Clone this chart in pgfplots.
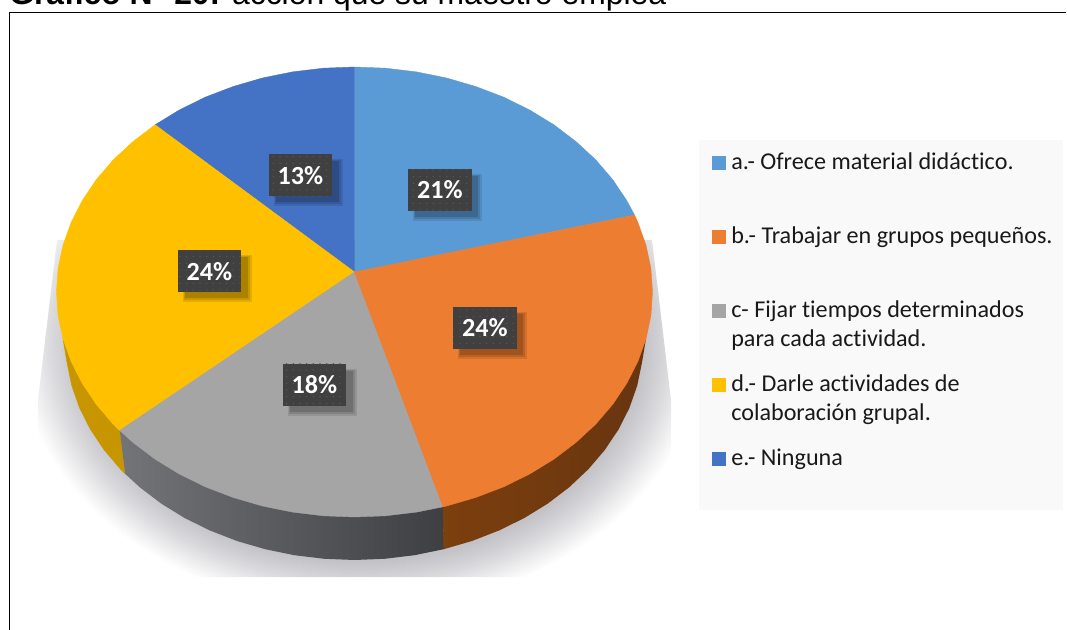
\documentclass[border=0pt]{standalone}
\usepackage{fontspec}
\setmainfont[Ligatures=NoCommon]{Carlito}
\newfontfamily\arialf{Liberation Sans}
\usepackage{pgfplots}
\pgfplotsset{compat=1.18}
\usetikzlibrary{patterns.meta}
\definecolor{cA}{HTML}{5B9BD5}
\definecolor{cB}{HTML}{ED7D31}
\definecolor{cC}{HTML}{A5A5A5}
\definecolor{cD}{HTML}{FFC000}
\definecolor{cE}{HTML}{4472C4}
\definecolor{sideD}{HTML}{C69500}
\definecolor{sideCl}{HTML}{737478}
\definecolor{sideCm}{HTML}{505050}
\definecolor{sideCr}{HTML}{3E3F42}
\definecolor{sideBl}{HTML}{7C3F0E}
\definecolor{sideBr}{HTML}{683510}
\definecolor{shadowc}{HTML}{C2C2C7}
\definecolor{lbg}{HTML}{F9F9F9}
\definecolor{boxc}{HTML}{404040}
\definecolor{boxd}{HTML}{5A5A5A}
\pgfdeclareradialshading{pieshadow}{\pgfpointorigin}{color(0bp)=(shadowc); color(20.5bp)=(shadowc); color(22.5bp)=(shadowc!60!white); color(25bp)=(white); color(50bp)=(white)}
\newcommand{\pct}[3]{%
  \fill[black,opacity=0.10] (axis cs:#1-27,#2-16) rectangle (axis cs:#1+42,#2+31);
  \fill[black,opacity=0.12] (axis cs:#1-26,#2-15) rectangle (axis cs:#1+40,#2+29);
  \fill[black,opacity=0.14] (axis cs:#1-25,#2-14) rectangle (axis cs:#1+38,#2+27);
  \node[minimum width=47.6pt,minimum height=31.5pt,inner sep=0pt,fill=boxc,
        postaction={pattern={Dots[distance=5pt,radius=0.55pt]},pattern color=boxd},
        text=white,font=\fontsize{19.6}{19.6}\selectfont\bfseries] at (axis cs:#1,#2) {#3};}
\newcommand{\ltext}[2]{\node[anchor=base west,inner sep=0pt,text=black!90,font=\fontsize{18.1}{18.1}\selectfont] at (axis cs:731,#1) {#2};}
\begin{document}
\begin{tikzpicture}
\clip (0,0) rectangle (800.25pt,472.5pt);
\useasboundingbox (0,0) rectangle (800.25pt,472.5pt);
\begin{axis}[at={(0,0)},anchor=south west,scale only axis,width=800.25pt,height=472.5pt,
  xmin=0,xmax=1067,ymin=0,ymax=630,y dir=reverse,hide axis,clip=false]
% frame
\addplot[draw=black,line width=1.1pt,no marks] coordinates {(9.5,640) (9.5,12.7) (1066,12.7)};
% legend background
\addplot[draw=none,fill=lbg] coordinates {(699,140) (1063,140) (1063,510) (699,510)} --cycle;
% shadow
\begin{scope}
\clip (axis cs:57,240) -- (axis cs:38,400) -- (axis cs:38,577) -- (axis cs:671,577) -- (axis cs:671,400) -- (axis cs:652,240) -- cycle;
\shade[shading=pieshadow] (axis cs:360,340) ellipse [x radius=258pt,y radius=202.5pt];
\end{scope}
% sides
\addplot[draw=sideD,line width=0.3pt,fill=sideD] coordinates {(63,338.8) (67.1,363) (71.8,385.7) (79.6,408) (90.5,429.5) (104.2,450) (120.7,469.3) (125.2,473.9) (119.7,430.5) (200,300)} --cycle;
\addplot[draw=none,shade,left color=sideCl,middle color=sideCm,right color=sideCr] coordinates {(119.7,430.5) (125.2,473.9) (139.7,487.2) (161.1,503.5) (184.6,518) (210,530.5) (237,541) (265.2,549.2) (294.4,555.2) (324.3,558.8) (354.5,560) (384.7,558.8) (414.6,555.2) (443.8,549.2) (443.1,506.8) (354.5,400)} --cycle;
\addplot[draw=none,shade,left color=sideBl,right color=sideBr] coordinates {(443.1,506.8) (443.8,549.2) (472,541) (499,530.5) (524.4,518) (547.9,503.5) (569.3,487.2) (588.3,469.3) (604.8,450) (618.5,429.5) (629.4,408) (637.2,385.7) (641.9,363) (646,338.8) (500,320)} --cycle;
% top faces: a 21
\addplot[draw=cA,line width=0.3pt,fill=cA] coordinates {(354.5,272) (354.5,67) (385.6,68.2) (416.5,71.9) (446.6,78) (475.7,86.5) (503.5,97.1) (529.7,110) (553.9,124.8) (575.9,141.5) (595.6,159.7) (612.6,179.5) (626.7,200.5) (634.5,215)} --cycle;
% e 13
\addplot[draw=cE,line width=0.3pt,fill=cE] coordinates {(354.5,272) (155.1,124.8) (179.3,110) (205.5,97.1) (233.3,86.5) (262.4,78) (292.5,71.9) (323.4,68.2) (354.5,67)} --cycle;
% d 24
\addplot[draw=cD,line width=0.3pt,fill=cD] coordinates {(354.5,272) (119.7,430.5) (113.4,424.3) (96.4,404.5) (82.3,383.5) (71.1,361.5) (63,338.8) (58.1,315.5) (56.5,292) (58.1,268.5) (63,245.2) (71.1,222.5) (82.3,200.5) (96.4,179.5) (113.4,159.7) (133.1,141.5) (155.1,124.8)} --cycle;
% c 18
\addplot[draw=cC,line width=0.3pt,fill=cC] coordinates {(354.5,272) (443.1,506.8) (416.5,512.1) (385.6,515.8) (354.5,517) (323.4,515.8) (292.5,512.1) (262.4,506) (233.3,497.5) (205.5,486.9) (179.3,474) (155.1,459.2) (133.1,442.5) (119.7,430.5)} --cycle;
% b 24
\addplot[draw=cB,line width=0.3pt,fill=cB] coordinates {(354.5,272) (634.5,215) (637.9,222.5) (646,245.2) (650.9,268.5) (652.5,292) (650.9,315.5) (646,338.8) (637.9,361.5) (626.7,383.5) (612.6,404.5) (595.6,424.3) (575.9,442.5) (553.9,459.2) (529.7,474) (503.5,486.9) (475.7,497.5) (446.6,506) (443.1,506.8)} --cycle;
% percentage labels
\pct{440}{190}{21\%}
\pct{485}{328}{24\%}
\pct{314.5}{385}{18\%}
\pct{209.5}{271.5}{24\%}
\pct{300.5}{175.5}{13\%}
% legend
\addplot[draw=none,fill=cA] coordinates {(712,156) (726,156) (726,170) (712,170)} --cycle;
\addplot[draw=none,fill=cB] coordinates {(712,230) (726,230) (726,244) (712,244)} --cycle;
\addplot[draw=none,fill=cC] coordinates {(712,304) (726,304) (726,318) (712,318)} --cycle;
\addplot[draw=none,fill=cD] coordinates {(712,378) (726,378) (726,392) (712,392)} --cycle;
\addplot[draw=none,fill=cE] coordinates {(712,452) (726,452) (726,466) (712,466)} --cycle;
\ltext{170}{a.- Ofrece material didáctico.}
\ltext{244}{b.- Trabajar en grupos pequeños.}
\ltext{318}{c- Fijar tiempos determinados}
\ltext{347}{para cada actividad.}
\ltext{392}{d.- Darle actividades de}
\ltext{421}{colaboración grupal.}
\ltext{466}{e.- Ninguna}
% title
\node[anchor=base west,inner sep=0pt,font=\arialf\fontsize{23.9}{23.9}\selectfont] at (axis cs:9,5) {\textbf{Gráfico N° 20:} acción que su maestro emplea};
\end{axis}
\end{tikzpicture}
\end{document}
